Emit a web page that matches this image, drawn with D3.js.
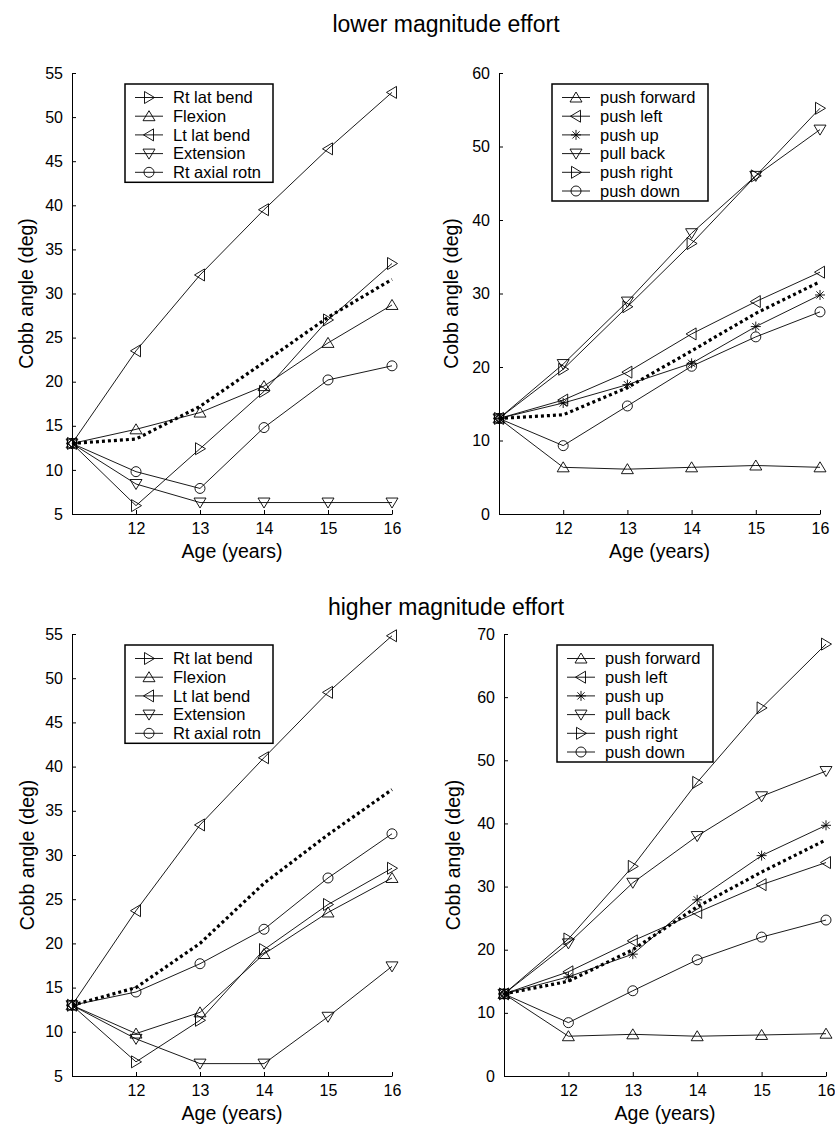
<!DOCTYPE html>
<html>
<head>
<meta charset="utf-8">
<script src="https://cdn.jsdelivr.net/npm/d3@7"></script>
<style>
  body { margin: 0; background: #fff; }
  text { font-family: "Liberation Sans", Arial, Helvetica, sans-serif; fill: #000; }
</style>
</head>
<body>
<script>
"use strict";

// data
const ages = [11, 12, 13, 14, 15, 16];
const xTicks = [12, 13, 14, 15, 16];

// moment loads (left column)
const momentNames = ["Rt lat bend", "Flexion", "Lt lat bend", "Extension", "Rt axial rotn"];
const momentMarkers = ["right", "up", "left", "down", "circle"];

// force loads (right column)
const forceNames = ["push forward", "push left", "push up", "pull back", "push right", "push down"];
const forceMarkers = ["up", "left", "star", "down", "right", "circle"];

// lower magnitude effort
const lowMomentRtLat   = [13, 5.95, 12.4, 18.9, 27.0, 33.4];
const lowMomentFlex    = [13, 14.6, 16.5, 19.5, 24.4, 28.7];
const lowMomentLtLat   = [13, 23.5, 32.1, 39.5, 46.4, 52.8];
const lowMomentExt     = [13, 8.4, 6.3, 6.3, 6.3, 6.3];
const lowMomentAxial   = [13, 9.8, 7.9, 14.8, 20.2, 21.8];

const lowForwardPush   = [13, 6.35, 6.1, 6.35, 6.6, 6.35];
const lowLeftPush      = [13, 15.5, 19.3, 24.5, 28.9, 32.9];
const lowUpPush        = [13, 15.1, 17.6, 20.5, 25.5, 29.8];
const lowBackPull      = [13, 20.4, 28.9, 38.2, 46.0, 52.3];
const lowRightPush     = [13, 19.7, 28.2, 36.8, 46.0, 55.2];
const lowDownPush      = [13, 9.3, 14.7, 20.1, 24.1, 27.5];

const lowAverage       = [13, 13.5, 17.2, 22.2, 27.3, 31.6];

// higher magnitude effort
const highMomentRtLat  = [13, 6.6, 11.3, 19.3, 24.4, 28.5];
const highMomentFlex   = [13, 9.8, 12.2, 18.8, 23.5, 27.4];
const highMomentLtLat  = [13, 23.7, 33.4, 41.0, 48.4, 54.8];
const highMomentExt    = [13, 9.2, 6.4, 6.4, 11.7, 17.4];
const highMomentAxial  = [13, 14.5, 17.7, 21.6, 27.4, 32.4];

const highForwardPush  = [13, 6.3, 6.6, 6.3, 6.5, 6.7];
const highLeftPush     = [13, 16.5, 21.4, 25.9, 30.3, 33.8];
const highUpPush       = [13, 15.7, 19.3, 27.9, 34.9, 39.7];
const highBackPull     = [13, 21.0, 30.6, 38.0, 44.3, 48.3];
const highRightPush    = [13, 21.7, 33.2, 46.5, 58.3, 68.4];
const highDownPush     = [13, 8.45, 13.5, 18.4, 22.0, 24.7];

const highAverage      = [13, 15.0, 20.0, 26.8, 32.3, 37.4];

const yTicksBy5  = [5, 10, 15, 20, 25, 30, 35, 40, 45, 50, 55];
const yTicks0to60 = [0, 10, 20, 30, 40, 50, 60];
const yTicks0to70 = [0, 10, 20, 30, 40, 50, 60, 70];

const titles = ["lower magnitude effort", "higher magnitude effort"];

// panels
const panels = [
  {left: 72,  right: 392, top: 73,  bottom: 514,  yDomain: [5, 55], yTicks: yTicksBy5, ylabX: 26,
   names: momentNames, markers: momentMarkers,
   series: [lowMomentRtLat, lowMomentFlex, lowMomentLtLat, lowMomentExt, lowMomentAxial], avg: lowAverage},
  {left: 499, right: 820, top: 73,  bottom: 514,  yDomain: [0, 60], yTicks: yTicks0to60, ylabX: 451,
   names: forceNames, markers: forceMarkers,
   series: [lowForwardPush, lowLeftPush, lowUpPush, lowBackPull, lowRightPush, lowDownPush], avg: lowAverage},
  {left: 72,  right: 392, top: 634, bottom: 1076, yDomain: [5, 55], yTicks: yTicksBy5, ylabX: 27,
   names: momentNames, markers: momentMarkers,
   series: [highMomentRtLat, highMomentFlex, highMomentLtLat, highMomentExt, highMomentAxial], avg: highAverage},
  {left: 504, right: 826, top: 634, bottom: 1076, yDomain: [0, 70], yTicks: yTicks0to70, ylabX: 453,
   names: forceNames, markers: forceMarkers,
   series: [highForwardPush, highLeftPush, highUpPush, highBackPull, highRightPush, highDownPush], avg: highAverage}
];

const symbolPaths = {
  up:    "M0,-5.5L6,4.5L-6,4.5Z",
  down:  "M0,5.5L6,-4.5L-6,-4.5Z",
  left:  "M-5.5,0L4.5,-6L4.5,6Z",
  right: "M5.5,0L-4.5,-6L-4.5,6Z",
  star:  "M-5,0H5M0,-5V5M-3.6,-3.6L3.6,3.6M-3.6,3.6L3.6,-3.6"
};

const svg = d3.select("body").append("svg")
  .attr("width", 835)
  .attr("height", 1128);

svg.append("rect").attr("width", 835).attr("height", 1128).attr("fill", "#fff");

function addMarker(sel, type, cx, cy) {
  if (type === "circle") {
    sel.append("circle")
      .attr("cx", cx).attr("cy", cy).attr("r", 5)
      .attr("fill", "none").attr("stroke", "#000").attr("stroke-width", 0.9);
  } else {
    sel.append("path")
      .attr("d", symbolPaths[type])
      .attr("transform", `translate(${cx},${cy})`)
      .attr("fill", "none").attr("stroke", "#000").attr("stroke-width", 0.9);
  }
}

function drawPanel(p) {
  const x = d3.scaleLinear().domain([11, 16]).range([p.left, p.right]);
  const y = d3.scaleLinear().domain(p.yDomain).range([p.bottom, p.top]);
  const g = svg.append("g");

  // axes, ticks pointing inward
  const xAxis = g.append("g")
    .attr("transform", `translate(0,${p.bottom})`)
    .call(d3.axisBottom(x).tickValues(xTicks).tickFormat(d3.format("d"))
      .tickSizeInner(-4).tickSizeOuter(0).tickPadding(9));
  const yAxis = g.append("g")
    .attr("transform", `translate(${p.left},0)`)
    .call(d3.axisLeft(y).tickValues(p.yTicks).tickFormat(d3.format("d"))
      .tickSizeInner(-4).tickSizeOuter(0).tickPadding(9));
  [xAxis, yAxis].forEach(a => {
    a.attr("font-size", 16).attr("font-family", null);
    a.selectAll(".domain").attr("stroke", "#000").attr("stroke-width", 1);
    a.selectAll(".tick line").attr("stroke", "#000").attr("stroke-width", 1);
  });

  const line = d3.line()
    .x((d, i) => x(ages[i]))
    .y(d => y(d));

  // dotted average curve
  g.append("path")
    .datum(p.avg)
    .attr("d", line)
    .attr("fill", "none")
    .attr("stroke", "#000")
    .attr("stroke-width", 3.2)
    .attr("stroke-dasharray", "3,3");

  // series lines and markers
  p.series.forEach((vals, k) => {
    g.append("path")
      .datum(vals)
      .attr("d", line)
      .attr("fill", "none")
      .attr("stroke", "#000")
      .attr("stroke-width", 0.9);
    vals.forEach((v, i) => addMarker(g, p.markers[k], x(ages[i]), y(v)));
  });

  // legend
  const n = p.names.length;
  const lx = p.left + 53, ly = p.top + 11;
  const lw = n === 5 ? 148 : 156;
  const rowH = 18.7;
  const lh = 13.5 + (n - 1) * rowH + 10;
  const leg = g.append("g");
  leg.append("rect")
    .attr("x", lx).attr("y", ly).attr("width", lw).attr("height", lh)
    .attr("fill", "#fff").attr("stroke", "#000").attr("stroke-width", 1.5);
  p.names.forEach((name, k) => {
    const ry = ly + 13.5 + k * rowH;
    leg.append("line")
      .attr("x1", lx + 10).attr("x2", lx + 38).attr("y1", ry).attr("y2", ry)
      .attr("stroke", "#000").attr("stroke-width", 0.9);
    addMarker(leg, p.markers[k], lx + 24, ry);
    leg.append("text")
      .attr("x", lx + 48).attr("y", ry).attr("dy", "0.35em")
      .attr("font-size", 16.5)
      .text(name);
  });

  // axis labels
  g.append("text")
    .attr("x", (p.left + p.right) / 2).attr("y", p.bottom + 44)
    .attr("text-anchor", "middle").attr("font-size", 19.5)
    .text("Age (years)");
  g.append("text")
    .attr("transform", `translate(${p.ylabX},${(p.top + p.bottom) / 2}) rotate(-90)`)
    .attr("text-anchor", "middle").attr("dy", "0.35em").attr("font-size", 19.5)
    .text("Cobb angle (deg)");
}

panels.forEach(drawPanel);

// section titles
svg.append("text")
  .attr("x", 446).attr("y", 32)
  .attr("text-anchor", "middle").attr("font-size", 23)
  .text(titles[0]);
svg.append("text")
  .attr("x", 446).attr("y", 615)
  .attr("text-anchor", "middle").attr("font-size", 23)
  .text(titles[1]);
</script>
</body>
</html>
